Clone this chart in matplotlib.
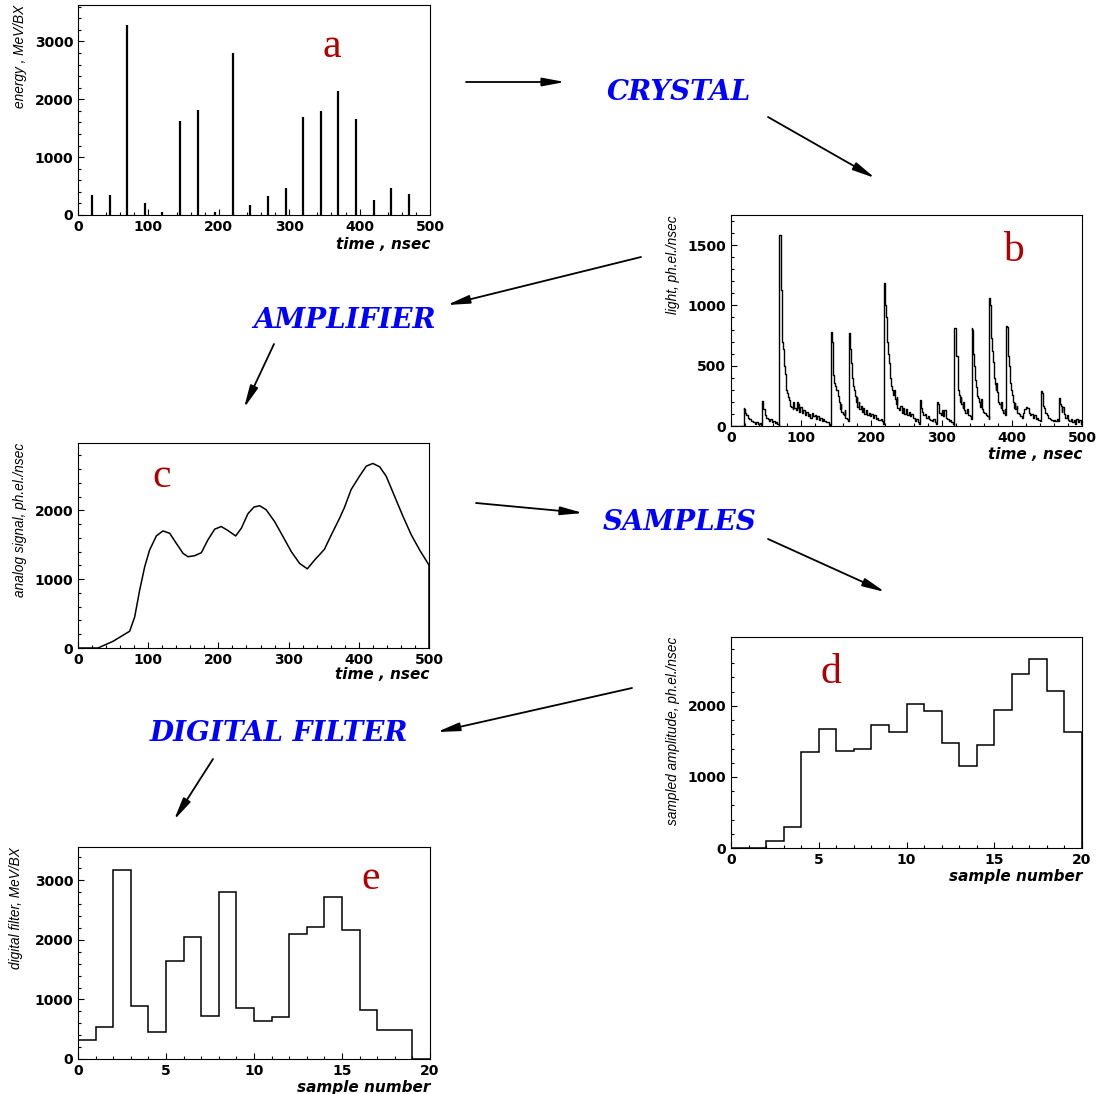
import matplotlib
matplotlib.use("Agg")
import matplotlib.pyplot as plt
from matplotlib.ticker import MultipleLocator
from matplotlib.patches import FancyArrowPatch

# ---------------- data ----------------
# (a) energy deposits per bunch crossing
a_time = [20, 45, 70, 95, 120, 145, 170, 195, 220, 245, 270, 295, 320, 345, 370, 395, 420, 445, 470]
a_energy = [350, 340, 3280, 210, 60, 1630, 1810, 50, 2800, 170, 320, 470, 1700, 1800, 2150, 1660, 260, 460, 370]

# (b) crystal light output (histogram, step)
b_time = [0, 18, 19, 20, 22, 24, 26, 28, 31, 34, 36, 38, 41, 43,
          44, 45, 46, 48, 50, 52, 54, 56, 58, 60, 62, 64, 66, 68,
          69, 71, 72, 73, 74, 75, 76, 77, 78, 79, 80, 81, 82, 84, 86, 88, 89, 90, 92, 94, 95, 96, 97, 99,
          101, 103, 105, 107, 109, 111, 113, 115, 117, 119, 121, 123, 125, 127, 129, 131, 133, 136, 139, 141,
          143, 144, 145, 146, 147, 148, 150, 152, 154, 155, 156, 157, 159, 161, 162, 163, 165, 167,
          168, 169, 170, 171, 172, 173, 174, 175, 176, 178, 179, 180, 182, 183, 185, 186, 188, 190, 192, 194,
          196, 198, 200, 202, 204, 206, 208, 210, 213, 215, 217,
          218, 219, 220, 221, 222, 223, 224, 225, 226, 227, 228, 229, 231, 232, 233, 235, 236, 237, 239, 241,
          243, 245, 247, 249, 251, 253, 255, 257, 259, 262, 264, 266, 268,
          269, 270, 271, 272, 274, 276, 278, 280, 282, 284, 286, 288, 290, 292,
          294, 295, 296, 297, 299, 300, 302, 304, 306, 308, 310, 312, 314, 316, 317,
          318, 320, 322, 323, 324, 325, 326, 327, 328, 330, 331, 332, 334, 336, 338, 340, 342,
          343, 344, 345, 346, 347, 348, 349, 350, 351, 352, 353, 355, 356, 357, 359, 361, 363, 365, 367,
          368, 369, 370, 371, 372, 373, 374, 375, 376, 377, 378, 379, 380, 381, 382, 384, 385, 386, 388, 390, 391,
          392, 393, 394, 395, 396, 397, 398, 399, 400, 401, 402, 403, 404, 405, 407, 408, 410, 412, 414, 416,
          418, 420, 422, 424, 426, 428, 430, 432, 434, 436, 438, 440,
          442, 443, 444, 445, 446, 448, 450, 452, 454, 456, 458, 460, 462, 464, 466,
          467, 468, 469, 470, 471, 472, 474, 476, 478, 480, 482, 484, 486, 488, 490, 492, 494, 496, 498, 500]
b_light = [0, 150, 140, 110, 90, 70, 55, 40, 30, 20, 35, 15, 25, 10,
           205, 150, 140, 90, 70, 55, 40, 55, 30, 40, 25, 35, 20, 10,
           1580, 1130, 820, 700, 640, 560, 500, 430, 380, 300, 270, 240, 215, 170, 160, 140, 200, 150, 130, 200, 150, 180, 120, 160,
           110, 130, 90, 120, 80, 100, 70, 110, 80, 90, 60, 80, 50, 70, 40, 60, 40, 30, 20, 10,
           780, 700, 560, 420, 360, 330, 300, 250, 200, 140, 180, 120, 100, 90, 130, 70, 60, 40,
           770, 760, 640, 520, 480, 400, 330, 300, 250, 200, 240, 160, 200, 140, 170, 120, 150, 100, 130, 90,
           110, 80, 100, 70, 90, 60, 70, 50, 60, 40, 20,
           1190, 1160, 1000, 900, 700, 680, 600, 520, 450, 400, 330, 300, 260, 300, 220, 180, 240, 150, 130, 170,
           110, 150, 100, 140, 90, 120, 80, 100, 70, 40, 60, 30, 20,
           215, 200, 150, 120, 90, 100, 70, 80, 60, 50, 40, 55, 30, 20,
           195, 180, 150, 110, 90, 130, 80, 130, 70, 60, 40, 50, 30, 20, 10,
           810, 580, 580, 400, 300, 260, 200, 240, 180, 150, 200, 130, 110, 140, 90, 80, 60,
           810, 800, 600, 500, 420, 380, 320, 280, 250, 230, 200, 160, 220, 140, 120, 110, 90, 80, 60,
           1060, 1000, 800, 730, 620, 530, 450, 400, 350, 300, 360, 280, 240, 200, 180, 150, 200, 130, 110, 140, 90,
           830, 820, 640, 580, 500, 420, 360, 300, 260, 220, 200, 150, 190, 140, 170, 110, 100, 80, 70, 110,
           140, 160, 150, 110, 90, 100, 70, 90, 60, 70, 50, 40,
           290, 270, 200, 170, 150, 110, 90, 70, 60, 50, 40, 50, 40, 60, 40,
           230, 220, 180, 170, 120, 160, 100, 70, 90, 50, 40, 60, 30, 50, 20, 60, 30, 50, 20, 0]

# (c) amplifier output
c_time = [0, 28.5, 50, 73.6, 80.7, 87.8, 95, 102, 111.6, 121, 130.6, 140, 149.6, 156.7, 166, 175.7,
          185, 194.7, 204, 213.7, 224.6, 232.7, 242, 250.7, 258.8, 268, 280, 292, 303.9, 315.7, 326.7,
          337, 351, 360.8, 372.7, 379.8, 389, 401, 410.7, 420, 429.7, 439, 451, 463, 474.8, 486.7, 500, 500]
c_signal = [0, 0, 98, 244, 449, 839, 1180, 1424, 1629, 1702, 1668, 1522, 1376, 1327, 1341, 1385,
            1571, 1727, 1766, 1707, 1629, 1741, 1951, 2049, 2068, 2010, 1839, 1620, 1400, 1229, 1151,
            1278, 1434, 1644, 1888, 2049, 2302, 2498, 2644, 2683, 2634, 2498, 2205, 1912, 1644, 1424, 1205, 0]

# (d) sampled amplitudes (20 samples)
d_samples = list(range(21))
d_amp = [0, 0, 95, 290, 1345, 1678, 1365, 1395, 1728, 1630, 2020, 1925, 1485, 1152, 1443, 1944, 2450, 2665, 2210, 1630]

# (e) digital filter output
e_samples = list(range(21))
e_filter = [313, 542, 3180, 888, 453, 1648, 2056, 721, 2800, 855, 642, 698, 2100, 2212, 2715, 2173, 821, 492, 492, 0]

# flow annotations
step_labels = ["CRYSTAL", "AMPLIFIER", "SAMPLES", "DIGITAL FILTER"]
panel_letters = ["a", "b", "c", "d", "e"]

# ---------------- figure ----------------
W, H = 1100, 1094
plt.rcParams['font.family'] = ['DejaVu Sans']
plt.rcParams['font.weight'] = 'bold'
fig = plt.figure(figsize=(W / 100, H / 100), dpi=100)


def rect(x0, y0, x1, y1):
    return [x0 / W, 1 - y1 / H, (x1 - x0) / W, (y1 - y0) / H]


LABEL_FONT = ['Liberation Sans']


def style(ax, xmaj, xmin, ymaj, ymin, xlabel, ylabel, xlab_y, ylab_x):
    ax.xaxis.set_major_locator(MultipleLocator(xmaj))
    ax.xaxis.set_minor_locator(MultipleLocator(xmin))
    ax.yaxis.set_major_locator(MultipleLocator(ymaj))
    ax.yaxis.set_minor_locator(MultipleLocator(ymin))
    ax.tick_params(which='both', direction='in', top=False, right=False, width=0.8, colors='black')
    ax.tick_params(which='major', length=4.0, labelsize=10, pad=3.5)
    ax.tick_params(which='minor', length=2.0)
    for s in ax.spines.values():
        s.set_linewidth(0.8)
    ax.set_xlabel(xlabel, fontsize=11, fontweight='bold', style='italic', family='DejaVu Sans', loc='right')
    ax.set_ylabel(ylabel, fontsize=9.8, fontweight='normal', style='italic', family=LABEL_FONT, loc='top')
    ax.xaxis.set_label_coords(1.0, xlab_y)
    ax.yaxis.set_label_coords(ylab_x, 1.0)


# (a)
axa = fig.add_axes(rect(78, 5, 430, 215))
axa.vlines(a_time, 0, a_energy, color='black', lw=1.6)
axa.set_xlim(0, 500)
axa.set_ylim(0, 3630)
style(axa, 100, 20, 1000, 200, "time , nsec", "energy , MeV/BX", -0.105, -0.145)

# (b)
axb = fig.add_axes(rect(731, 215, 1082, 426))
axb.step(b_time, b_light, where='post', color='black', lw=1.0)
axb.set_xlim(0, 500)
axb.set_ylim(0, 1750)
style(axb, 100, 20, 500, 100, "time , nsec", "light, ph.el./nsec", -0.1, -0.145)

# (c)
axc = fig.add_axes(rect(78, 443, 429, 648))
axc.plot(c_time, c_signal, color='black', lw=1.1)
axc.set_xlim(0, 500)
axc.set_ylim(0, 2980)
style(axc, 100, 20, 1000, 200, "time , nsec", "analog signal, ph.el./nsec", -0.095, -0.145)

# (d)
axd = fig.add_axes(rect(731, 637, 1082, 848))
axd.stairs(d_amp, d_samples, baseline=0, color='black', lw=1.1)
axd.set_xlim(0, 20)
axd.set_ylim(0, 2970)
style(axd, 5, 1, 1000, 200, "sample number", "sampled amplitude, ph.el./nsec", -0.1, -0.145)

# (e)
axe = fig.add_axes(rect(78, 847, 430, 1059))
axe.stairs(e_filter, e_samples, baseline=0, color='black', lw=1.1)
axe.set_xlim(0, 20)
axe.set_ylim(0, 3560)
style(axe, 5, 1, 1000, 200, "sample number", "digital filter, MeV/BX", -0.1, -0.155)

# ---------------- overlay: flow arrows, labels, letters ----------------
ov = fig.add_axes([0, 0, 1, 1])
ov.set_xlim(0, W)
ov.set_ylim(H, 0)
ov.set_axis_off()

arrows = [((466, 82), (565, 82)), ((768, 117), (875, 178)),
          ((641, 257), (447, 305)), ((274, 344), (244, 408)),
          ((476, 503), (583, 513)), ((768, 539), (885, 592)),
          ((632, 688), (437, 732)), ((213, 759), (174, 820))]
for start, end in arrows:
    ov.add_patch(FancyArrowPatch(start, end, arrowstyle='-|>,head_length=1.5,head_width=0.28',
                                 mutation_scale=9, color='black', lw=1.3, shrinkA=0, shrinkB=0))

label_pos = [(679, 100.5), (344, 328), (680, 530), (279, 741)]
for txt, (x, y) in zip(step_labels, label_pos):
    ov.text(x, y, txt, color='#0000ff', fontsize=20, fontweight='bold', style='italic',
            family='DejaVu Serif', ha='center', va='baseline')

letter_pos = [(332, 57), (1013, 261), (162, 487), (831, 683), (371, 889)]
for txt, (x, y) in zip(panel_letters, letter_pos):
    ov.text(x, y, txt, color='#b00000', fontsize=30, fontweight='normal',
            family='Liberation Serif', ha='center', va='baseline')

fig.savefig("out.png", dpi=100)
